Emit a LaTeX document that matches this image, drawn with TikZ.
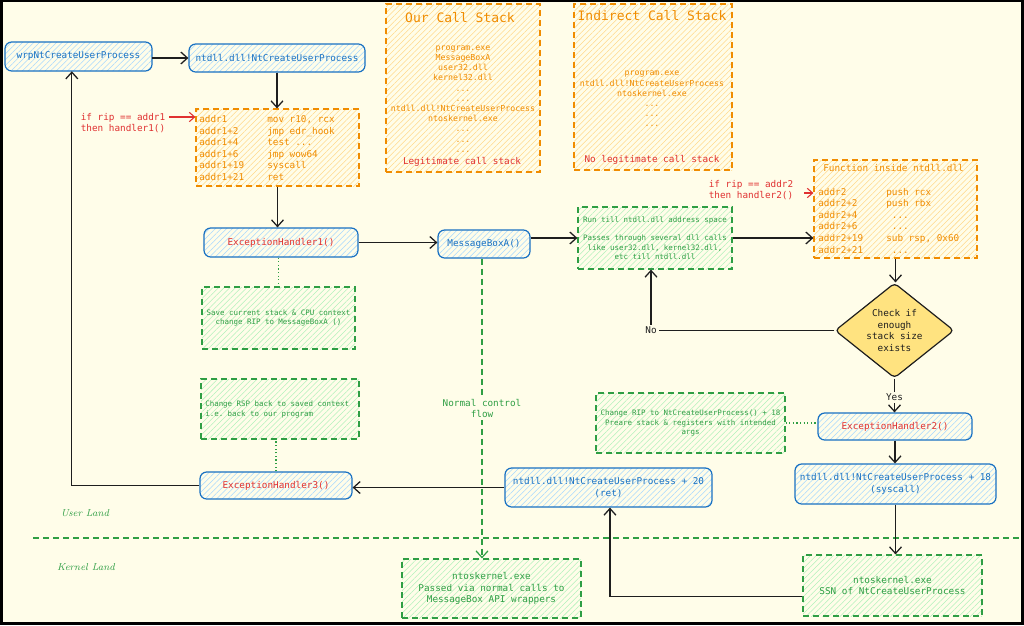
\documentclass[tikz,border=0pt]{standalone}
\usepackage{fontspec}
\setmonofont{DejaVu Sans Mono}
\usetikzlibrary{shapes.geometric,arrows.meta,patterns.meta}

\definecolor{bg}{HTML}{FFFDE9}
\definecolor{ink}{HTML}{1E1E1E}
\definecolor{bstroke}{HTML}{1971C2}
\definecolor{bhatch}{HTML}{A5D8FF}
\definecolor{ostroke}{HTML}{F08C00}
\definecolor{ohatch}{HTML}{FFD98A}
\definecolor{gstroke}{HTML}{2F9E44}
\definecolor{ghatch}{HTML}{B2F2BB}
\definecolor{rtext}{HTML}{E03131}
\definecolor{dfill}{HTML}{FFE380}

\newcommand\fcode{\fontsize{7}{8.7}\selectfont\ttfamily}
\newcommand\fsmall{\fontsize{5.6}{7}\selectfont\ttfamily}
\newcommand\fstack{\fontsize{6.2}{7.65}\selectfont\ttfamily}
\newcommand\ftitle{\fontsize{9.75}{11}\selectfont\ttfamily}
\newcommand\fhand{\fontsize{7.5}{9}\selectfont\itshape}
\newcommand\crow[2]{\makebox[51pt][l]{#1}#2}

\tikzset{
  sz/.style 2 args={minimum width=#1*0.75pt, minimum height=#2*0.75pt},
  hatch/.style={pattern={Lines[angle=45,distance=3pt,line width=0.4pt]}, pattern color=#1},
  bluebox/.style={draw=bstroke, line width=0.9pt, rounded corners=5pt, hatch=bhatch,
    inner sep=0pt, font=\fcode, text=bstroke, align=center},
  orbox/.style={draw=ostroke, line width=0.9pt, dash pattern=on 4.5pt off 3pt, hatch=ohatch, inner sep=0pt},
  grbox/.style={draw=gstroke, line width=0.9pt, dash pattern=on 4.5pt off 3pt, hatch=ghatch,
    inner sep=0pt, text=gstroke, align=center},
  txt/.style={inner sep=0pt, align=center},
  lbl/.style={font=\fcode, text=ink, inner sep=1.5pt, fill=bg},
  arr/.style={draw=ink, line width=0.95pt, -{Straight Barb[length=5pt,width=9pt]}},
  rarr/.style={draw=rtext, line width=0.8pt, -{Straight Barb[length=4pt,width=7pt]}},
  gdot/.style={draw=gstroke, line width=0.9pt, dash pattern=on 0.9pt off 1.8pt},
  gdash/.style={draw=gstroke, line width=0.9pt, dash pattern=on 4.5pt off 3pt},
}

\begin{document}
\begin{tikzpicture}[x=0.75pt, y=-0.75pt]
\useasboundingbox (0,0) rectangle (1024,625);
\fill[black] (0,0) rectangle (1024,625);
\fill[bg] (3,2) rectangle (1021,622);

% top row
\node[bluebox, sz={147}{29}] (wrp) at (78.5,56.5) {wrpNtCreateUserProcess};
\node[bluebox, sz={176}{28}] (ntc) at (277,58) {ntdll.dll!NtCreateUserProcess};

% addr1 block
\node[orbox, sz={163}{77}] (a1) at (277.5,147.5) {};
\node[txt, anchor=west, text=ostroke, font=\fcode, align=left] (a1t) at (199,148)
  {\crow{addr1}{mov r10, rcx}\\\crow{addr1+2}{jmp edr\_hook}\\\crow{addr1+4}{test ...}\\
   \crow{addr1+6}{jmp wow64}\\\crow{addr1+19}{syscall}\\\crow{addr1+21}{ret}};
\node[txt, text=rtext, font=\fcode] (if1) at (123,123) {if rip == addr1\\then handler1()};
\coordinate (r1) at (195,117);

% call stacks
\node[orbox, sz={154}{168}] (ocs) at (463,88) {};
\node[txt, text=ostroke, font=\ftitle] (ocsT) at (460,18) {Our Call Stack};
\node[txt, text=ostroke, font=\fstack] (ocsL) at (463,99)
  {program.exe\\MessageBoxA\\user32.dll\\kernel32.dll\\...\\...\\ntdll.dll!NtCreateUserProcess\\ntoskernel.exe\\...\\...\\...};
\node[txt, text=rtext, font=\fcode] (ocsR) at (462,162) {Legitimate call stack};

\node[orbox, sz={158}{166}] (ics) at (653,87) {};
\node[txt, text=ostroke, font=\ftitle] (icsT) at (652,16) {Indirect Call Stack};
\node[txt, text=ostroke, font=\fstack] (icsL) at (652,99)
  {program.exe\\ntdll.dll!NtCreateUserProcess\\ntoskernel.exe\\...\\...\\...};
\node[txt, text=rtext, font=\fcode] (icsR) at (652,160) {No legitimate call stack};

% function inside ntdll
\node[orbox, sz={163}{98}] (fn) at (895.5,209) {};
\node[txt, anchor=west, text=ostroke, font=\fcode, align=left] (fnt) at (818,209)
  {\hspace*{3.75pt}Function inside ntdll.dll\\\mbox{}\\\crow{addr2}{push rcx}\\\crow{addr2+2}{push rbx}\\
   \crow{addr2+4}{ ...}\\\crow{addr2+6}{ ...}\\\crow{addr2+19}{sub rsp, 0x60}\\\crow{addr2+21}{ ...}};
\node[txt, text=rtext, font=\fcode] (if2) at (751,190) {if rip == addr2\\then handler2()};
\coordinate (r2) at (814,193);

% middle row
\node[bluebox, text=rtext, sz={154}{29}] (eh1) at (281,242.5) {ExceptionHandler1()};
\node[bluebox, sz={92}{28}] (msg) at (484,244) {MessageBoxA()};
\node[grbox, sz={154}{62}, font=\fsmall] (run) at (655,238)
  {Run till ntdll.dll address space\\\mbox{}\\Passes through several dll calls\\like user32.dll, kernel32.dll,\\etc till ntdll.dll};
\node[grbox, sz={153}{62}, font=\fsmall] (save) at (278.5,318)
  {Save current stack \& CPU context\\change RIP to MessageBoxA ()};

% decision
\node[diamond, draw=ink, fill=dfill, line width=0.9pt, rounded corners=3pt, sz={119}{95}, inner sep=0pt] (dia) at (894.5,330.5) {};
\node[txt, font=\fcode, text=ink] (diat) at (894.5,330.5) {Check if\\enough\\stack size\\exists};

% right column
\node[bluebox, text=rtext, sz={154}{27}] (eh2) at (895,426.5) {ExceptionHandler2()};
\node[grbox, sz={189}{60}, font=\fsmall] (rip) at (690.5,423)
  {Change RIP to NtCreateUserProcess() + 18\\Preare stack \& registers with intended\\args};
\node[bluebox, sz={201}{40}] (sys) at (895.5,484) {ntdll.dll!NtCreateUserProcess + 18\\(syscall)};
\node[grbox, sz={179}{61}, font=\fcode] (ssn) at (892.5,585.5) {ntoskernel.exe\\SSN of NtCreateUserProcess};

% bottom row
\node[bluebox, sz={207}{39}] (ret) at (608.5,487.5) {ntdll.dll!NtCreateUserProcess + 20\\(ret)};
\node[bluebox, text=rtext, sz={152}{27}] (eh3) at (276,485.5) {ExceptionHandler3()};
\node[grbox, sz={158}{60}] (rsp) at (280,409) {};
\node[txt, anchor=west, text=gstroke, font=\fsmall, align=left] (rspt) at (205,409.5)
  {Change RSP back to saved context\\i.e. back to our program};
\node[grbox, sz={179}{59}, font=\fcode] (ntk) at (491.5,588.5)
  {ntoskernel.exe\\Passed via normal calls to\\MessageBox API wrappers};

% land separator
\coordinate (kl1) at (33,538);
\coordinate (kl2) at (1020,538);
\draw[gdash] (kl1) -- (kl2);
\node[txt, font=\fhand, text=gstroke] (ul) at (85,513) {User Land};
\node[txt, font=\fhand, text=gstroke] (kland) at (86,567) {Kernel Land};

% connectors
\draw[arr] (wrp.east |- ntc.west) -- (ntc.west);
\draw[arr] (ntc.south) -- (ntc.south |- a1.north);
\draw[rarr] ([xshift=3pt]if1.east |- r1) -- (a1.west |- r1);
\draw[arr] (a1.south) -- (a1.south |- eh1.north);
\draw[arr] (eh1.east) -- (eh1.east -| msg.west);
\draw[arr] (msg.east |- run.west) -- (run.west);
\draw[arr] (run.east) -- (run.east -| fn.west);
\draw[rarr] ([xshift=8pt]if2.east |- r2) -- (fn.west |- r2);
\draw[arr] (fn.south) -- (fn.south |- dia.north);
\draw[arr] (dia.west) -| node[lbl, pos=0.5] {No} ([xshift=-3pt]run.south);
\draw[arr] (dia.south) -- node[lbl, pos=0.55] {Yes} (dia.south |- eh2.north);
\draw[arr] (eh2.south) -- (eh2.south |- sys.north);
\draw[arr] (sys.south) -- (sys.south |- ssn.north);
\draw[arr] ([yshift=-8pt]ssn.west) -| ([xshift=1.1pt]ret.south);
\draw[arr] (ret.west) -- (ret.west -| eh3.east);
\draw[arr] (eh3.west) -| ([xshift=-5pt]wrp.south);
\draw[gdot] (eh1.south -| save.north) -- (save.north);
\draw[gdot] (eh3.north) -- (eh3.north |- rsp.south);
\draw[gdot] (rip.east) -- (rip.east -| eh2.west);
\draw[gdash, -{Straight Barb[length=5pt,width=9pt]}] ([xshift=-1.5pt]msg.south) --
  node[lbl, text=gstroke, align=center, pos=0.5] {Normal control\\flow} ([xshift=-1.5pt]msg.south |- ntk.north);
\end{tikzpicture}
\end{document}
